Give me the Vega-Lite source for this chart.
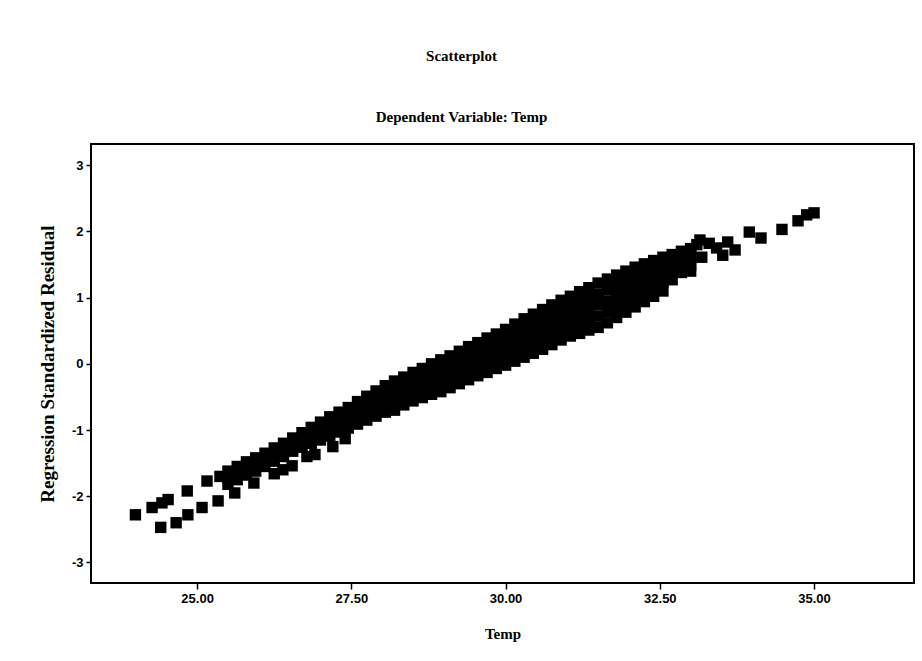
{
  "$schema": "https://vega.github.io/schema/vega-lite/v6.json",
  "width": 823,
  "height": 439,
  "autosize": "none",
  "padding": {"left": 91, "top": 144, "right": 8, "bottom": 78},
  "background": "white",
  "config": {
    "view": {"stroke": "#000", "strokeWidth": 2},
    "axis": {"grid": false, "domain": false, "tickColor": "#000", "tickWidth": 1.5, "tickSize": 6,
      "labelColor": "#000", "labelFont": "Liberation Sans", "labelFontSize": 13, "labelFontWeight": "bold",
      "titleColor": "#000", "titleFont": "Liberation Serif", "titleFontWeight": "bold"}
  },
  "title": {
    "text": "Scatterplot",
    "subtitle": "Dependent Variable: Temp",
    "font": "Liberation Serif", "fontSize": 15, "fontWeight": "bold", "color": "#000",
    "subtitleFont": "Liberation Serif", "subtitleFontSize": 15, "subtitleFontWeight": "bold", "subtitleColor": "#000",
    "subtitlePadding": 46, "offset": 19, "anchor": "middle", "dx": -41
  },
  "data": {"values": [
    {"t":24.00,"r":-2.28},{"t":24.27,"r":-2.17},{"t":24.43,"r":-2.10},{"t":24.53,"r":-2.05},{"t":24.84,"r":-1.92},{"t":25.16,"r":-1.77},{"t":25.37,"r":-1.70},
    {"t":24.41,"r":-2.47},{"t":24.66,"r":-2.40},{"t":24.85,"r":-2.28},{"t":25.08,"r":-2.17},{"t":25.34,"r":-2.07},{"t":25.61,"r":-1.95},{"t":25.92,"r":-1.80},
    {"t":26.25,"r":-1.66},{"t":26.39,"r":-1.60},{"t":26.54,"r":-1.54},{"t":26.78,"r":-1.40},{"t":26.91,"r":-1.37},{"t":27.20,"r":-1.25},{"t":27.40,"r":-1.13},
    {"t":25.50,"r":-1.62},{"t":25.50,"r":-1.72},{"t":25.50,"r":-1.82},
    {"t":25.65,"r":-1.55},{"t":25.65,"r":-1.65},{"t":25.65,"r":-1.75},
    {"t":25.80,"r":-1.48},{"t":25.80,"r":-1.58},{"t":25.80,"r":-1.68},
    {"t":25.95,"r":-1.42},{"t":25.95,"r":-1.52},{"t":25.95,"r":-1.62},
    {"t":26.10,"r":-1.35},{"t":26.10,"r":-1.45},{"t":26.10,"r":-1.55},
    {"t":26.25,"r":-1.27},{"t":26.25,"r":-1.37},{"t":26.25,"r":-1.47},
    {"t":26.40,"r":-1.20},{"t":26.40,"r":-1.30},{"t":26.40,"r":-1.40},
    {"t":26.55,"r":-1.12},{"t":26.55,"r":-1.22},{"t":26.55,"r":-1.32},
    {"t":26.70,"r":-1.04},{"t":26.70,"r":-1.15},{"t":26.70,"r":-1.26},
    {"t":26.85,"r":-0.96},{"t":26.85,"r":-1.08},{"t":26.85,"r":-1.20},
    {"t":27.00,"r":-0.88},{"t":27.00,"r":-0.97},{"t":27.00,"r":-1.06},{"t":27.00,"r":-1.15},
    {"t":27.15,"r":-0.80},{"t":27.15,"r":-0.90},{"t":27.15,"r":-1.00},{"t":27.15,"r":-1.09},
    {"t":27.30,"r":-0.73},{"t":27.30,"r":-0.83},{"t":27.30,"r":-0.93},{"t":27.30,"r":-1.03},
    {"t":27.45,"r":-0.66},{"t":27.45,"r":-0.76},{"t":27.45,"r":-0.87},{"t":27.45,"r":-0.97},
    {"t":27.60,"r":-0.57},{"t":27.60,"r":-0.68},{"t":27.60,"r":-0.80},{"t":27.60,"r":-0.91},
    {"t":27.75,"r":-0.49},{"t":27.75,"r":-0.61},{"t":27.75,"r":-0.73},{"t":27.75,"r":-0.85},
    {"t":27.90,"r":-0.41},{"t":27.90,"r":-0.51},{"t":27.90,"r":-0.60},{"t":27.90,"r":-0.70},{"t":27.90,"r":-0.79},
    {"t":28.05,"r":-0.33},{"t":28.05,"r":-0.43},{"t":28.05,"r":-0.53},{"t":28.05,"r":-0.63},{"t":28.05,"r":-0.73},
    {"t":28.20,"r":-0.26},{"t":28.20,"r":-0.37},{"t":28.20,"r":-0.48},{"t":28.20,"r":-0.59},{"t":28.20,"r":-0.70},
    {"t":28.35,"r":-0.20},{"t":28.35,"r":-0.30},{"t":28.35,"r":-0.41},{"t":28.35,"r":-0.51},{"t":28.35,"r":-0.62},
    {"t":28.50,"r":-0.13},{"t":28.50,"r":-0.24},{"t":28.50,"r":-0.34},{"t":28.50,"r":-0.45},{"t":28.50,"r":-0.56},
    {"t":28.65,"r":-0.07},{"t":28.65,"r":-0.18},{"t":28.65,"r":-0.29},{"t":28.65,"r":-0.40},{"t":28.65,"r":-0.51},
    {"t":28.80,"r":0.00},{"t":28.80,"r":-0.12},{"t":28.80,"r":-0.23},{"t":28.80,"r":-0.35},{"t":28.80,"r":-0.46},
    {"t":28.95,"r":0.06},{"t":28.95,"r":-0.06},{"t":28.95,"r":-0.18},{"t":28.95,"r":-0.30},{"t":28.95,"r":-0.42},
    {"t":29.10,"r":0.12},{"t":29.10,"r":0.00},{"t":29.10,"r":-0.12},{"t":29.10,"r":-0.24},{"t":29.10,"r":-0.36},
    {"t":29.25,"r":0.19},{"t":29.25,"r":0.07},{"t":29.25,"r":-0.06},{"t":29.25,"r":-0.18},{"t":29.25,"r":-0.30},
    {"t":29.40,"r":0.26},{"t":29.40,"r":0.13},{"t":29.40,"r":0.01},{"t":29.40,"r":-0.12},{"t":29.40,"r":-0.24},
    {"t":29.55,"r":0.32},{"t":29.55,"r":0.20},{"t":29.55,"r":0.07},{"t":29.55,"r":-0.06},{"t":29.55,"r":-0.18},
    {"t":29.70,"r":0.39},{"t":29.70,"r":0.26},{"t":29.70,"r":0.13},{"t":29.70,"r":0.00},{"t":29.70,"r":-0.13},
    {"t":29.85,"r":0.45},{"t":29.85,"r":0.32},{"t":29.85,"r":0.19},{"t":29.85,"r":0.06},{"t":29.85,"r":-0.07},
    {"t":30.00,"r":0.52},{"t":30.00,"r":0.39},{"t":30.00,"r":0.25},{"t":30.00,"r":0.12},{"t":30.00,"r":-0.02},
    {"t":30.15,"r":0.60},{"t":30.15,"r":0.46},{"t":30.15,"r":0.32},{"t":30.15,"r":0.18},{"t":30.15,"r":0.04},
    {"t":30.30,"r":0.68},{"t":30.30,"r":0.54},{"t":30.30,"r":0.39},{"t":30.30,"r":0.25},{"t":30.30,"r":0.10},
    {"t":30.45,"r":0.75},{"t":30.45,"r":0.60},{"t":30.45,"r":0.46},{"t":30.45,"r":0.31},{"t":30.45,"r":0.16},
    {"t":30.60,"r":0.82},{"t":30.60,"r":0.67},{"t":30.60,"r":0.52},{"t":30.60,"r":0.37},{"t":30.60,"r":0.22},
    {"t":30.75,"r":0.89},{"t":30.75,"r":0.74},{"t":30.75,"r":0.59},{"t":30.75,"r":0.44},{"t":30.75,"r":0.29},
    {"t":30.90,"r":0.96},{"t":30.90,"r":0.81},{"t":30.90,"r":0.66},{"t":30.90,"r":0.51},{"t":30.90,"r":0.36},
    {"t":31.05,"r":1.02},{"t":31.05,"r":0.87},{"t":31.05,"r":0.72},{"t":31.05,"r":0.57},{"t":31.05,"r":0.42},
    {"t":31.20,"r":1.09},{"t":31.20,"r":0.93},{"t":31.20,"r":0.78},{"t":31.20,"r":0.62},{"t":31.20,"r":0.46},
    {"t":31.35,"r":1.15},{"t":31.35,"r":0.99},{"t":31.35,"r":0.83},{"t":31.35,"r":0.67},{"t":31.35,"r":0.51},
    {"t":31.50,"r":1.22},{"t":31.50,"r":1.05},{"t":31.50,"r":0.89},{"t":31.50,"r":0.72},{"t":31.50,"r":0.55},
    {"t":31.65,"r":1.28},{"t":31.65,"r":1.12},{"t":31.65,"r":0.95},{"t":31.65,"r":0.79},{"t":31.65,"r":0.62},
    {"t":31.80,"r":1.34},{"t":31.80,"r":1.18},{"t":31.80,"r":1.02},{"t":31.80,"r":0.86},{"t":31.80,"r":0.70},
    {"t":31.95,"r":1.40},{"t":31.95,"r":1.25},{"t":31.95,"r":1.09},{"t":31.95,"r":0.94},{"t":31.95,"r":0.78},
    {"t":32.10,"r":1.46},{"t":32.10,"r":1.31},{"t":32.10,"r":1.16},{"t":32.10,"r":1.01},{"t":32.10,"r":0.86},
    {"t":32.25,"r":1.51},{"t":32.25,"r":1.37},{"t":32.25,"r":1.23},{"t":32.25,"r":1.08},{"t":32.25,"r":0.94},
    {"t":32.40,"r":1.56},{"t":32.40,"r":1.43},{"t":32.40,"r":1.29},{"t":32.40,"r":1.16},{"t":32.40,"r":1.02},
    {"t":32.55,"r":1.61},{"t":32.55,"r":1.48},{"t":32.55,"r":1.36},{"t":32.55,"r":1.23},{"t":32.55,"r":1.10},
    {"t":32.70,"r":1.65},{"t":32.70,"r":1.57},{"t":32.70,"r":1.49},{"t":32.70,"r":1.41},{"t":32.70,"r":1.27},
    {"t":32.85,"r":1.70},{"t":32.85,"r":1.62},{"t":32.85,"r":1.53},{"t":32.85,"r":1.46},{"t":32.85,"r":1.38},
    {"t":33.00,"r":1.74},{"t":33.00,"r":1.66},{"t":33.00,"r":1.58},{"t":33.00,"r":1.49},{"t":33.00,"r":1.40},
    {"t":33.10,"r":1.80},{"t":33.15,"r":1.87},{"t":33.18,"r":1.61},{"t":33.30,"r":1.82},
    {"t":33.42,"r":1.75},{"t":33.52,"r":1.64},{"t":33.60,"r":1.84},{"t":33.72,"r":1.72},
    {"t":33.95,"r":1.99},{"t":34.14,"r":1.90},{"t":34.48,"r":2.03},{"t":34.74,"r":2.16},
    {"t":34.88,"r":2.25},{"t":35.00,"r":2.28}
  ]},
  "mark": {"type": "point", "shape": "square", "filled": true, "size": 130, "color": "#000", "opacity": 1, "strokeWidth": 0},
  "encoding": {
    "x": {"field": "t", "type": "quantitative",
      "scale": {"domain": [23.28, 36.62], "nice": false, "zero": false},
      "axis": {"values": [25, 27.5, 30, 32.5, 35], "format": ".2f", "title": "Temp", "titleFontSize": 15, "titlePadding": 21, "labelPadding": 3}},
    "y": {"field": "r", "type": "quantitative",
      "scale": {"domain": [-3.31, 3.32], "nice": false, "zero": false},
      "axis": {"values": [-3, -2, -1, 0, 1, 2, 3], "labelExpr": "datum.value < 0 ? '-' + abs(datum.value) : '' + datum.value", "tickSize": 5, "title": "Regression Standardized Residual", "titleFontSize": 19, "titlePadding": 14, "labelPadding": 3}}
  }
}
